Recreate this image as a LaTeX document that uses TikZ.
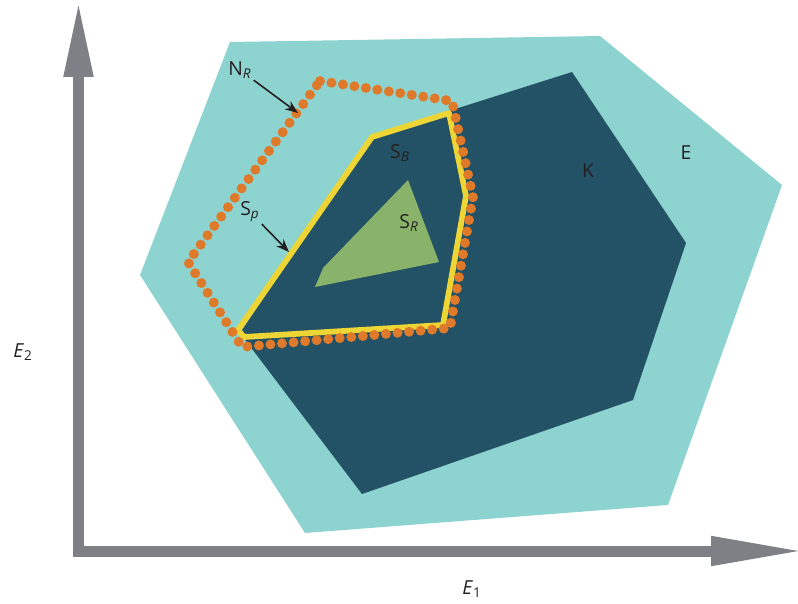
\documentclass[tikz,border=0pt]{standalone}
\usepackage{fontspec}
\setmainfont{Open Sans}
\usepackage{xcolor}
\definecolor{setE}{HTML}{8DD3D0}
\definecolor{setK}{HTML}{235166}
\definecolor{setSR}{HTML}{89B36A}
\definecolor{setSB}{HTML}{EDD535}
\definecolor{setNR}{HTML}{E07A2B}
\definecolor{axisGray}{HTML}{7E8085}
\definecolor{inkText}{HTML}{231F20}
\usepackage{tikz}
\usetikzlibrary{arrows.meta,positioning,calc}

\begin{document}
\begin{tikzpicture}[
			x=0.02cm, y=-0.02cm,
			axis/.style={line width=0.22cm, axisGray, line join=miter},
			region/.style={draw=none},
			label/.style={text=inkText, font=\fontsize{11}{13}\selectfont, inner sep=1pt},
			pointer/.style={-{Stealth[length=2.6mm, width=2mm]}, line width=0.9pt, inkText},
			hull/.style={setNR, line width=0.2cm, line cap=round, dash pattern=on 0pt off 0.232cm}
			]
			\useasboundingbox (0,0) rectangle (798,603);
			% regions
			\fill[setE] (230,42) -- (600,36) -- (782,185) -- (668,505) -- (305,533) -- (140,275) -- cycle;
			\fill[setK] (240,333) -- (372,135) -- (452,110) -- (572,72) -- (686,243) -- (633,400) -- (362,494) -- cycle;
			\fill[setSR] (408,180) -- (439,262) -- (315,287) -- (323,268) -- cycle;
			\draw[setSB, line width=0.115cm, line join=round] (372,137) -- (449,113) -- (466,196) -- (443,325) -- (244,337) -- (238,330) -- cycle;
			\draw[hull] (320,81) -- (452,101) -- (473,197) -- (450,328) -- (242,347) -- (188,262) -- cycle;
			% axes
			\coordinate (origin) at (78.5,551);
			\coordinate (ytip) at (78.5,0);
			\coordinate (xtip) at (805,551);
			\draw[axis, {Triangle[length=1.54cm, width=0.54cm]}-{Triangle[length=1.88cm, width=0.54cm]}] (ytip) |- (xtip);
			\node[label] (e1) at (472,589) {\textit{E}\textsubscript{1}};
			\node[label] (e2) at (23,352) {\textit{E}\textsubscript{2}};
			% labels
			\node[label] (e) at (686,153) {E};
			\node[label] (k) at (588,171) {K};
			\node[label] (sb) at (400,153) {S\textsubscript{\textit{B}}};
			\node[label] (sr) at (409,223) {S\textsubscript{\textit{R}}};
			\node[label] (nr) at (240,70) {N\textsubscript{\textit{R}}};
			\node[label] (sp) at (250,212) {S\textsubscript{\textit{p}}};
			\coordinate (nrtip) at (298,113);
			\coordinate (sptip) at (289,252);
			\draw[pointer] (nr) -- (nrtip);
			\draw[pointer] (sp) -- (sptip);
		\end{tikzpicture}
\end{document}
